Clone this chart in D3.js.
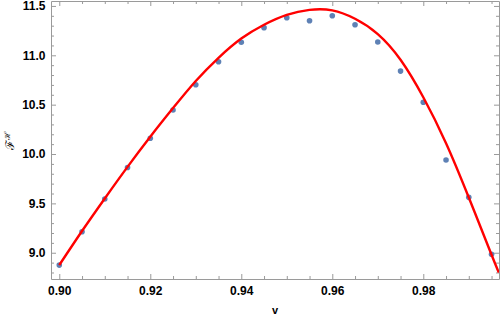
<!DOCTYPE html>
<html>
<head>
<meta charset="utf-8">
<script src="https://cdn.jsdelivr.net/npm/d3@7"></script>
<style>
  html, body { margin: 0; padding: 0; background: #fff; }
  svg { display: block; }
</style>
</head>
<body>
<svg id="chart" width="500" height="317"></svg>
<script>
// ---- data ----
const vValues = [0.900, 0.905, 0.910, 0.915, 0.920, 0.925, 0.930, 0.935, 0.940, 0.945,
                 0.950, 0.955, 0.960, 0.965, 0.970, 0.975, 0.980, 0.985, 0.990, 0.995];
const fValues = [8.875, 9.213, 9.544, 9.864, 10.159, 10.446, 10.702, 10.935, 11.132, 11.28,
                 11.38, 11.35, 11.40, 11.31, 11.135, 10.84, 10.524, 9.94, 9.561, 8.984];
const fitV = [0.900, 0.905, 0.910, 0.915, 0.920, 0.925, 0.930, 0.935, 0.940, 0.945, 0.950,
              0.955, 0.960, 0.965, 0.970, 0.975, 0.980, 0.985, 0.990, 0.995, 0.9966];
const fitF = [8.875, 9.22, 9.55, 9.87, 10.175, 10.465, 10.74, 10.975, 11.17, 11.31, 11.41,
              11.46, 11.455, 11.37, 11.215, 10.955, 10.575, 10.11, 9.56, 8.98, 8.80];
const xMajor = [0.90, 0.92, 0.94, 0.96, 0.98];
const xMinor = [0.905, 0.91, 0.915, 0.925, 0.93, 0.935, 0.945, 0.95, 0.955, 0.965, 0.97, 0.975, 0.985, 0.99, 0.995];
const yMajor = [9.0, 9.5, 10.0, 10.5, 11.0, 11.5];
const yMinor = [8.8, 8.9, 9.1, 9.2, 9.3, 9.4, 9.6, 9.7, 9.8, 9.9, 10.1, 10.2, 10.3, 10.4,
                10.6, 10.7, 10.8, 10.9, 11.1, 11.2, 11.3, 11.4];
const xDomain = [0.89818, 0.99664];
const yDomain = [8.734, 11.55];

// ---- layout ----
const L = 51, R = 499, T = 1, B = 279;
const svg = d3.select("#chart");
const x = d3.scaleLinear().domain(xDomain).range([L, R]);
const y = d3.scaleLinear().domain(yDomain).range([B, T]);

const frameColor = "#9a9a9a";
const font = "'Liberation Sans', Arial, sans-serif";

function styleAxis(g) {
  g.selectAll("path.domain").attr("stroke", frameColor).attr("stroke-width", 1);
  g.selectAll(".tick line").attr("stroke", frameColor).attr("stroke-width", 1);
  g.selectAll(".tick text").attr("fill", "#000").style("font-family", font)
    .style("font-size", "12px").style("font-weight", "bold");
}

// bottom
svg.append("g").attr("transform", `translate(0,${B})`)
  .call(d3.axisBottom(x).tickValues(xMajor).tickFormat(d3.format(".2f")).tickSize(-5).tickSizeOuter(0).tickPadding(7))
  .call(styleAxis);
svg.append("g").attr("transform", `translate(0,${B})`)
  .call(d3.axisBottom(x).tickValues(xMinor).tickFormat("").tickSize(-3).tickSizeOuter(0))
  .call(g => g.select("path.domain").remove()).call(styleAxis);
// top
svg.append("g").attr("transform", `translate(0,${T})`)
  .call(d3.axisTop(x).tickValues(xMajor).tickFormat("").tickSize(-5).tickSizeOuter(0))
  .call(styleAxis);
svg.append("g").attr("transform", `translate(0,${T})`)
  .call(d3.axisTop(x).tickValues(xMinor).tickFormat("").tickSize(-3).tickSizeOuter(0))
  .call(g => g.select("path.domain").remove()).call(styleAxis);
// left
svg.append("g").attr("transform", `translate(${L},0)`)
  .call(d3.axisLeft(y).tickValues(yMajor).tickFormat(d3.format(".1f")).tickSize(-5).tickSizeOuter(0).tickPadding(5.5))
  .call(styleAxis);
svg.append("g").attr("transform", `translate(${L},0)`)
  .call(d3.axisLeft(y).tickValues(yMinor).tickFormat("").tickSize(-3).tickSizeOuter(0))
  .call(g => g.select("path.domain").remove()).call(styleAxis);
// right
svg.append("g").attr("transform", `translate(${R},0)`)
  .call(d3.axisRight(y).tickValues(yMajor).tickFormat("").tickSize(-5).tickSizeOuter(0))
  .call(styleAxis);
svg.append("g").attr("transform", `translate(${R},0)`)
  .call(d3.axisRight(y).tickValues(yMinor).tickFormat("").tickSize(-3).tickSizeOuter(0))
  .call(g => g.select("path.domain").remove()).call(styleAxis);

// clip
svg.append("clipPath").attr("id", "plotclip")
  .append("rect").attr("x", L).attr("y", T).attr("width", R - L).attr("height", B - T);

const plot = svg.append("g").attr("clip-path", "url(#plotclip)");

// points
plot.selectAll("circle.pt").data(vValues.map((v, i) => [v, fValues[i]]))
  .join("circle").attr("class", "pt")
  .attr("cx", d => x(d[0])).attr("cy", d => y(d[1]))
  .attr("r", 2.8).attr("fill", "#5e81b5");

// fit curve
const line = d3.line().x(d => x(d[0])).y(d => y(d[1])).curve(d3.curveNatural);
plot.append("path").datum(fitV.map((v, i) => [v, fitF[i]]))
  .attr("d", line).attr("fill", "none").attr("stroke", "#ff0000").attr("stroke-width", 2.4)
  .attr("stroke-linejoin", "round");

// axis labels
svg.append("text").attr("x", 275).attr("y", 314).attr("text-anchor", "middle")
  .style("font-family", font).style("font-size", "11px").style("font-weight", "bold")
  .text("v");

const yl = svg.append("text").attr("transform", "translate(14,141) rotate(-90)")
  .attr("text-anchor", "middle")
  .style("font-family", "'DejaVu Serif', serif").style("font-size", "12px");
yl.append("tspan").text("\u2131");
yl.append("tspan").attr("dy", -4).style("font-size", "8px").text("\u210B");
</script>
</body>
</html>
